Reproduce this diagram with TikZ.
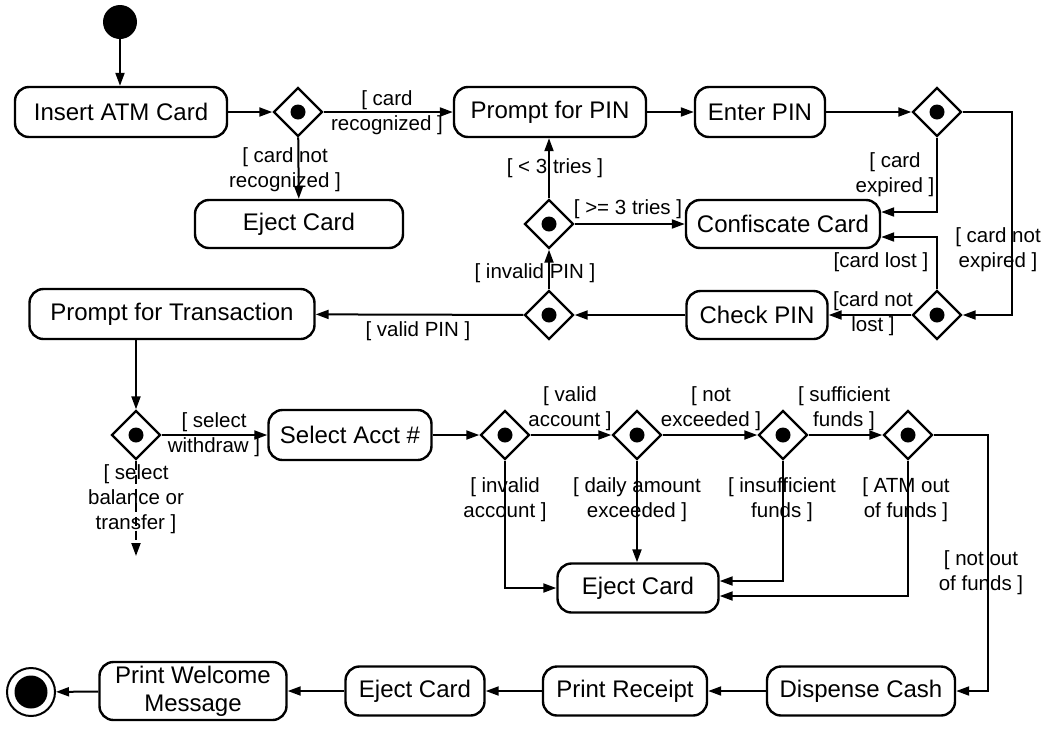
\documentclass[tikz,border=0pt]{standalone}
\usepackage{fontspec}
\setmainfont{Liberation Sans}
\usetikzlibrary{shapes.geometric,arrows.meta}
\newcommand{\nodefont}{\fontsize{24}{28}\selectfont}
\newcommand{\lblfont}{\fontsize{20.5}{25}\selectfont}
\tikzset{
  act/.style={draw, rounded corners=14pt, line width=2.4pt, font=\nodefont,
    inner sep=0pt, minimum height=50pt, align=center},
  dec/.style={draw, diamond, line width=2.4pt, minimum width=49pt, minimum height=49pt,
    inner sep=0pt, path picture={\fill (path picture bounding box.center) circle (7.5pt);}},
  lbl/.style={font=\lblfont, align=center, inner sep=0pt},
  arr/.style={-{Triangle[length=13pt,width=9pt]}, line width=2pt},
}
\begin{document}
\begin{tikzpicture}[x=1pt,y=-1pt]
\useasboundingbox[fill=white] (0,0) rectangle (1047,729);

% initial / final
\node[circle, fill=black, minimum size=34pt, inner sep=0pt] (start) at (120,22) {};
\node[circle, draw, line width=2pt, minimum size=48pt, inner sep=0pt,
  path picture={\fill (path picture bounding box.center) circle (16.5pt);}] (final) at (31,692) {};

% row 1
\node[act, minimum width=212pt] (insert) at (121,112) {Insert ATM Card};
\node[dec] (d1) at (298,112) {};
\node[act, minimum width=192pt] (prompt) at (550,112) {Prompt for PIN};
\node[act, minimum width=130pt] (enter) at (760,112) {Enter PIN};
\node[dec] (d2) at (937,112) {};

% row 2
\node[act, minimum width=208pt, minimum height=48pt] (eject1) at (299,224) {Eject Card};
\node[dec] (d4) at (549,224) {};
\node[act, minimum width=194pt, minimum height=48pt] (conf) at (783,224) {Confiscate Card};

% row 3
\node[act, minimum width=285pt] (ptrans) at (172,314) {Prompt for Transaction};
\node[dec] (d5) at (549,315) {};
\node[act, minimum width=141pt, minimum height=48pt] (check) at (757,315) {Check PIN};
\node[dec] (d3) at (937,315) {};

% row 4
\node[dec] (d6) at (136,435) {};
\node[act, minimum width=163pt] (select) at (350,435) {Select Acct \#};
\node[dec] (d7) at (505,435) {};
\node[dec] (d8) at (637,435) {};
\node[dec] (d9) at (783,435) {};
\node[dec] (d10) at (908,435) {};
\coordinate (bal) at (136,556);

% row 5
\node[act, minimum width=161pt, minimum height=49pt] (eject2) at (638,588) {Eject Card};

% bottom row
\node[act, minimum width=188pt, minimum height=49pt] (disp) at (861,691) {Dispense Cash};
\node[act, minimum width=164pt, minimum height=49pt] (receipt) at (625,691) {Print Receipt};
\node[act, minimum width=139pt, minimum height=49pt] (eject3) at (415,691) {Eject Card};
\node[act, minimum width=187pt, minimum height=58pt] (welcome) at (193,691) {Print Welcome\\Message};

% connectors
\draw[arr] (start.south) -- (start.south |- insert.north);
\draw[arr] (insert) -- (d1);
\draw[arr] (d1) -- (prompt);
\draw[arr] (d1) -- (eject1);
\draw[arr] (prompt) -- (enter);
\draw[arr] (enter) -- (d2);
\draw[arr] (d2.south) |- ([yshift=12pt]conf.east);
\draw[arr] (d2.east) -- ++(49,0) |- (d3.east);
\draw[arr] (d3.north) |- ([yshift=-13pt]conf.east);
\draw[arr] (d3) -- (check);
\draw[arr] (check) -- (d5);
\draw[arr] (d5) -- (d4);
\draw[arr] (d4) -- (d4 |- prompt.south);
\draw[arr] (d4) -- (conf);
\draw[arr] (d5) -- (ptrans);
\draw[arr] (d6.north |- ptrans.south) -- (d6.north);
\draw[arr] (d6) -- (select);
\draw[arr, dashed, dash pattern=on 9pt off 5pt] (d6.south) -- (bal);
\draw[arr] (select) -- (d7);
\draw[arr] (d7) -- (d8);
\draw[arr] (d8) -- (d9);
\draw[arr] (d9) -- (d10);
\draw[arr] (d7.south) |- (eject2.west);
\draw[arr] (d8.south) -- (d8.south |- eject2.north);
\draw[arr] (d9.south) |- ([yshift=7pt]eject2.east);
\draw[arr] (d10.south) |- ([yshift=-8pt]eject2.east);
\draw[arr] (d10.east) -- ++(54,0) |- (disp.east);
\draw[arr] (disp) -- (receipt);
\draw[arr] (receipt) -- (eject3);
\draw[arr] (eject3) -- (welcome);
\draw[arr] (welcome) -- (final);

% labels
\node[lbl] (l1) at (387,113) {[ card\\recognized ]};
\node[lbl] (l2) at (285,170) {[ card not\\recognized ]};
\node[lbl] (l3) at (895,175) {[ card\\expired ]};
\node[lbl] (l4) at (998,250) {[ card not\\expired ]};
\node[lbl] (l5) at (881,262) {[card lost ]};
\node[lbl] (l6) at (873,314) {[card not\\lost ]};
\node[lbl] (l7) at (555,168) {[ < 3 tries ]};
\node[lbl] (l8) at (628,209) {[ >= 3 tries ]};
\node[lbl] (l9) at (535,273) {[ invalid PIN ]};
\node[lbl] (l10) at (418,331) {[ valid PIN ]};
\node[lbl] (l11) at (214,435) {[ select\\withdraw ]};
\node[lbl] (l12) at (136,499) {[ select\\balance or\\transfer ]};
\node[lbl] (l13) at (570,409) {[ valid\\account ]};
\node[lbl] (l14) at (711,409) {[ not\\exceeded ]};
\node[lbl] (l15) at (844,409) {[ sufficient\\funds ]};
\node[lbl] (l16) at (505,500) {[ invalid\\account ]};
\node[lbl] (l17) at (637,500) {[ daily amount\\exceeded ]};
\node[lbl] (l18) at (782,500) {[ insufficient\\funds ]};
\node[lbl] (l19) at (906,500) {[ ATM out\\of funds ]};
\node[lbl] (l20) at (981,573) {[ not out\\of funds ]};
\end{tikzpicture}
\end{document}
